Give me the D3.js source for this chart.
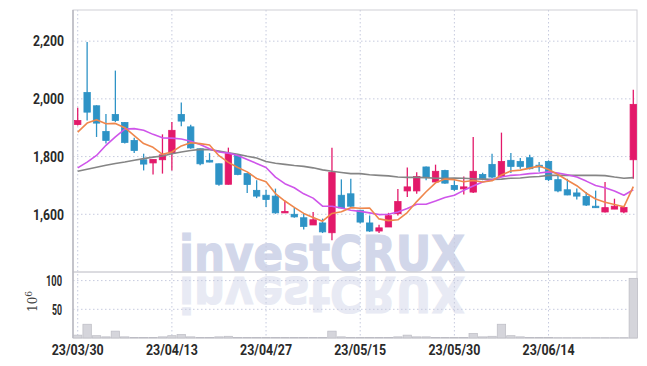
<!DOCTYPE html>
<html>
<head>
<meta charset="utf-8">
<script src="https://cdn.jsdelivr.net/npm/d3@7"></script>
<style>
  body { margin: 0; background: #fff; }
  .axis text { font-family: "Roboto", "Liberation Sans", sans-serif; font-weight: bold; font-size: 15px; fill: #2a2a2a; }
</style>
</head>
<body>
<div id="chart"></div>
<script>
// trading days
const dates = [
  "2023-03-30","2023-03-31","2023-04-03","2023-04-04","2023-04-05","2023-04-06","2023-04-07","2023-04-10","2023-04-11","2023-04-12",
  "2023-04-13","2023-04-14","2023-04-17","2023-04-18","2023-04-19","2023-04-20","2023-04-21","2023-04-24","2023-04-25","2023-04-26",
  "2023-04-27","2023-04-28","2023-05-02","2023-05-03","2023-05-04","2023-05-08","2023-05-09","2023-05-10","2023-05-11","2023-05-12",
  "2023-05-15","2023-05-16","2023-05-17","2023-05-18","2023-05-19","2023-05-22","2023-05-23","2023-05-24","2023-05-25","2023-05-26",
  "2023-05-30","2023-05-31","2023-06-01","2023-06-02","2023-06-05","2023-06-07","2023-06-08","2023-06-09","2023-06-12","2023-06-13",
  "2023-06-14","2023-06-15","2023-06-16","2023-06-19","2023-06-20","2023-06-21","2023-06-22","2023-06-23","2023-06-26","2023-06-27"
];
const open  = [1911,2022,1976,1887,1946,1918,1856,1789,1778,1789, 1812,1946,1903,1827,1787,1775,1704,1804,1741,1683,
               1666,1663,1606,1600,1588,1563,1570,1536,1666,1671, 1614,1570,1542,1556,1602,1681,1681,1764,1712,1752,
               1700,1688,1677,1738,1773,1731,1787,1783,1796,1770, 1783,1720,1685,1674,1662,1628,1608,1618,1608,1789];
const high  = [1969,2197,1978,1948,2098,1920,1865,1810,1790,1877, 1920,1987,1910,1828,1812,1776,1831,1806,1741,1718,
               1685,1689,1648,1623,1602,1608,1585,1831,1721,1723, 1616,1596,1564,1605,1688,1762,1746,1766,1772,1754,
               1718,1731,1868,1744,1810,1883,1812,1795,1806,1781, 1787,1741,1723,1689,1677,1682,1712,1654,1624,2032];
const low   = [1908,1925,1868,1845,1920,1845,1812,1752,1738,1741, 1752,1905,1827,1770,1780,1699,1703,1735,1674,1656,
               1625,1602,1606,1588,1547,1563,1535,1510,1620,1625, 1568,1539,1535,1556,1596,1660,1671,1718,1712,1706,
               1681,1669,1674,1718,1726,1729,1743,1758,1755,1747, 1715,1676,1666,1651,1629,1622,1606,1618,1604,1723];
const close = [1925,1954,1916,1856,1925,1849,1821,1774,1790,1806, 1891,1923,1830,1775,1781,1704,1810,1738,1703,1663,
               1651,1605,1610,1591,1558,1581,1539,1745,1622,1628, 1573,1542,1553,1595,1644,1695,1731,1727,1749,1708,
               1686,1695,1749,1723,1729,1783,1766,1766,1758,1764, 1720,1681,1667,1663,1632,1623,1623,1628,1624,1981];
// volume, millions of shares
const volume = [5,24,4,2,12,2,1,1,1,2, 4,6,2,1,1,2,3,1,1,1,
                1,1,1,1,1,1,1,12,2,1, 1,1,1,1,2,5,2,2,1,1,
                1,1,8,2,3,24,4,2,1,1, 1,0.5,0.5,0.5,0.5,0.5,0.5,0.5,0.5,104];
// moving averages as drawn
const ma5  = [1885,1916,1928,1914,1915,1900,1873,1845,1832,1808, 1816,1837,1848,1845,1840,1803,1780,1762,1747,1724,
              1713,1672,1646,1624,1603,1589,1576,1603,1609,1623, 1621,1622,1584,1578,1581,1606,1644,1678,1709,1722,
              1720,1713,1717,1712,1716,1736,1750,1753,1760,1767, 1755,1738,1718,1699,1673,1653,1642,1634,1626,1696];
const ma20 = [1761,1781,1804,1839,1868,1895,1897,1891,1877,1865, 1864,1861,1853,1842,1827,1816,1812,1804,1790,1776,
              1762,1729,1706,1692,1671,1656,1628,1628,1622,1614, 1610,1605,1599,1600,1608,1620,1635,1635,1646,1658,
              1666,1683,1698,1712,1720,1729,1735,1737,1741,1743, 1747,1743,1737,1729,1715,1700,1692,1681,1666,1685];
const ma60 = [1749,1756,1763,1770,1776,1781,1787,1793,1798,1802, 1810,1816,1821,1825,1824,1819,1813,1808,1801,1795,
              1783,1777,1773,1769,1766,1761,1754,1749,1745,1741, 1741,1737,1735,1733,1729,1728,1728,1727,1725,1725,
              1726,1725,1723,1722,1721,1722,1725,1726,1729,1731, 1735,1735,1735,1735,1735,1735,1734,1729,1725,1727];

const priceTicks = [1600, 1800, 2000, 2200];
const volumeTicks = [50, 100];
const dateTicks = [0, 10, 20, 30, 40, 50];

const width = 647, height = 366;
const left = 73, right = 637;
const priceTop = 10, priceBottom = 272, volBottom = 338;
const upColor = "#e3196a", downColor = "#2e93c6";

const svg = d3.select("#chart").append("svg")
  .attr("width", width).attr("height", height);

const idx = d3.range(dates.length);
const x = d3.scaleBand().domain(idx).range([left, right + 1]);
const cx = i => x(i) + x.bandwidth() / 2;
const y = d3.scaleLinear().domain([1400, 2308]).range([priceBottom, priceTop]);
const yv = d3.scaleLinear().domain([0, 115]).range([volBottom, priceBottom]);

// watermark and its reflection in the volume panel
const mark = (sel) => sel
  .attr("x", 179).attr("y", 271)
  .attr("textLength", 286).attr("lengthAdjust", "spacingAndGlyphs")
  .style("font-family", "DejaVu Sans, sans-serif").style("font-weight", "bold").style("font-size", "50px")
  .attr("fill", "#d2d7ea").attr("stroke", "#d2d7ea").attr("stroke-width", 1.2)
  .text("investCRUX");
svg.append("text").call(mark);
svg.append("text").call(mark)
  .attr("transform", "translate(0,548) scale(1,-1)")
  .attr("opacity", 0.5);

// grid
const grid = svg.append("g").attr("stroke", "#c6cade").attr("stroke-dasharray", "1.5,2.5");
grid.selectAll(".hp").data(priceTicks).enter().append("line")
  .attr("x1", left).attr("x2", right).attr("y1", d => y(d)).attr("y2", d => y(d));
grid.selectAll(".hv").data(volumeTicks).enter().append("line")
  .attr("x1", left).attr("x2", right).attr("y1", d => yv(d)).attr("y2", d => yv(d));
grid.selectAll(".v").data(dateTicks).enter().append("line")
  .attr("x1", d => cx(d)).attr("x2", d => cx(d)).attr("y1", priceTop).attr("y2", volBottom);

// panel frames
svg.append("rect").attr("x", left).attr("y", priceTop).attr("width", right - left).attr("height", priceBottom - priceTop)
  .attr("fill", "none").attr("stroke", "#d0d0d6");
svg.append("rect").attr("x", left).attr("y", priceBottom).attr("width", right - left).attr("height", volBottom - priceBottom)
  .attr("fill", "none").attr("stroke", "#d0d0d6");
svg.append("line").attr("x1", left).attr("x2", left).attr("y1", priceTop).attr("y2", volBottom)
  .attr("stroke", "#b8b8c0").attr("stroke-width", 1.5);

// volume bars
svg.append("g").selectAll("rect").data(idx).enter().append("rect")
  .attr("x", i => x(i) + 0.5).attr("width", x.bandwidth() - 1)
  .attr("y", i => yv(volume[i])).attr("height", i => volBottom - yv(volume[i]))
  .attr("fill", "#d5d5db").attr("stroke", "#bcbcc4").attr("stroke-width", 0.7);

// candles
const candle = svg.append("g").selectAll("g").data(idx).enter().append("g")
  .attr("stroke", i => close[i] >= open[i] ? upColor : downColor)
  .attr("fill", i => close[i] >= open[i] ? upColor : downColor);
candle.append("line")
  .attr("x1", cx).attr("x2", cx)
  .attr("y1", i => y(high[i])).attr("y2", i => y(low[i]))
  .attr("stroke-width", 1.3);
candle.append("rect")
  .attr("x", i => cx(i) - 3.2).attr("width", 6.4)
  .attr("y", i => y(Math.max(open[i], close[i])))
  .attr("height", i => Math.max(1.5, Math.abs(y(open[i]) - y(close[i]))))
  .attr("stroke-width", 0.8);

// moving averages
const line = arr => d3.line().x((d, i) => cx(i)).y(d => y(d))(arr);
[[ma60, "#858585"], [ma20, "#cf55ea"], [ma5, "#ef874c"]].forEach(([arr, col]) => {
  svg.append("path").attr("d", line(arr))
    .attr("fill", "none").attr("stroke", col).attr("stroke-width", 1.6).attr("stroke-linejoin", "round");
});

// axes (labels squeezed to the condensed look of the original)
const squeeze = w => g => g.selectAll("text").attr("textLength", w).attr("lengthAdjust", "spacingAndGlyphs");
svg.append("g").attr("class", "axis").attr("transform", `translate(${left - 6},0)`)
  .call(d3.axisLeft(y).tickValues(priceTicks).tickFormat(d3.format(",")).tickSize(0))
  .call(g => g.select(".domain").remove())
  .call(squeeze(31));
svg.append("g").attr("class", "axis").attr("transform", `translate(${left - 8},0)`)
  .call(d3.axisLeft(yv).tickValues(volumeTicks).tickSize(0))
  .call(g => g.select(".domain").remove())
  .call(g => g.selectAll("text").attr("textLength", d => d >= 100 ? 16 : 10).attr("lengthAdjust", "spacingAndGlyphs"));

const fmt = d3.timeFormat("%y/%m/%d"), parse = d3.timeParse("%Y-%m-%d");
svg.append("g").attr("class", "axis").attr("transform", `translate(0,${volBottom})`)
  .call(d3.axisBottom(x).tickValues(dateTicks).tickFormat(i => fmt(parse(dates[i]))).tickSize(0).tickPadding(6))
  .call(g => g.select(".domain").remove())
  .call(squeeze(52));

// volume unit label
const unit = svg.append("text")
  .attr("transform", "translate(37,312) rotate(-90)")
  .style("font-family", "DejaVu Serif, serif").style("font-size", "12px").attr("fill", "#444");
unit.append("tspan").text("10");
unit.append("tspan").attr("dy", -5).style("font-size", "9px").text("6");
</script>
</body>
</html>
